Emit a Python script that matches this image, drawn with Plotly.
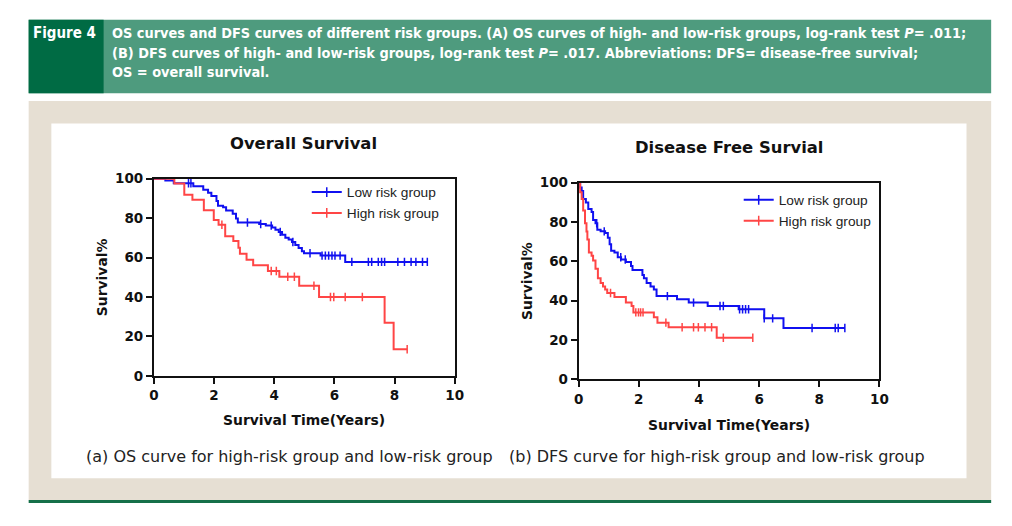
import numpy as np
import plotly.graph_objects as go

W, H = 1012, 526

# ---------------- data ----------------
os_low_t = [0, 0.38, 0.66, 1.31, 1.64, 1.80, 1.91, 2.08, 2.13, 2.30, 2.40, 2.62, 2.73, 2.79,
            3.50, 3.72, 3.93, 4.04, 4.15, 4.26, 4.37, 4.48, 4.59, 4.70, 4.81, 4.92, 4.99, 5.54, 6.36]
os_low_s = [100, 99.0, 97.7, 96.1, 94.4, 92.8, 91.2, 88.7, 86.3, 85.5, 83.8, 82.2, 79.8, 77.8,
            77.0, 76.2, 75.2, 74.1, 73.0, 71.6, 70.0, 69.2, 67.9, 66.4, 64.8, 63.2, 62.2, 61.0, 57.8]
os_low_end = 9.09
os_low_cens = [1.15, 1.23, 3.11, 3.55, 3.90, 4.20, 4.62, 5.19, 5.59, 5.70, 5.81, 5.92, 6.02, 6.19,
               6.58, 7.13, 7.24, 7.46, 7.57, 7.67, 8.11, 8.33, 8.55, 8.71, 8.93, 9.09]

os_high_t = [0, 0.68, 1.01, 1.28, 1.66, 1.99, 2.15, 2.37, 2.64, 2.81, 2.86, 3.08, 3.30, 3.79,
             4.17, 4.83, 5.49, 7.67, 7.97]
os_high_s = [100, 97.5, 91.8, 89.3, 84.0, 79.0, 76.6, 70.8, 68.4, 65.0, 62.0, 58.9, 56.1, 53.2,
             50.3, 45.7, 40.0, 27.0, 13.5]
os_high_end = 8.42
os_high_cens = [2.26, 3.90, 4.07, 4.45, 4.67, 5.32, 5.87, 5.98, 6.36, 6.93, 8.42]

dfs_low_t = [0, 0.05, 0.10, 0.15, 0.24, 0.32, 0.43, 0.48, 0.56, 0.62, 0.73, 0.88, 0.97, 1.03,
             1.08, 1.19, 1.30, 1.41, 1.57, 1.74, 1.79, 2.12, 2.17, 2.26, 2.39, 2.50, 2.59, 3.27,
             3.66, 4.29, 5.32, 6.17, 6.81]
dfs_low_s = [100, 97.5, 95.7, 91.6, 89.9, 86.6, 85.0, 80.9, 79.3, 76.0, 75.2, 74.4, 71.9, 68.6,
             65.3, 64.5, 62.0, 60.9, 59.6, 57.6, 55.5, 53.0, 51.3, 48.9, 47.2, 45.6, 42.3, 40.7,
             39.0, 37.3, 35.6, 31.0, 26.1]
dfs_low_end = 8.85
dfs_low_cens = [0.60, 0.85, 1.40, 1.55, 2.95, 3.82, 4.70, 4.81, 5.35, 5.45, 5.55, 5.65, 6.17,
                6.45, 7.76, 8.53, 8.63, 8.85]

dfs_high_t = [0, 0.05, 0.10, 0.15, 0.21, 0.26, 0.29, 0.34, 0.43, 0.48, 0.56, 0.64, 0.73, 0.81,
              0.88, 0.95, 1.19, 1.57, 1.76, 1.82, 2.50, 2.62, 2.99, 4.59]
dfs_high_s = [100, 95.0, 91.6, 85.8, 79.3, 75.1, 71.0, 64.5, 62.8, 60.4, 56.2, 51.3, 48.9, 47.2,
              45.6, 43.9, 41.8, 39.0, 37.3, 34.0, 31.5, 28.8, 26.5, 21.1]
dfs_high_end = 5.79
dfs_high_cens = [1.06, 1.90, 1.99, 2.06, 2.14, 2.90, 3.44, 3.82, 3.98, 4.20, 4.42, 4.81, 5.79]

x_ticks = [0, 2, 4, 6, 8, 10]
y_ticks = [0, 20, 40, 60, 80, 100]
group_names = ["Low risk group", "High risk group"]
plot_titles = ["Overall Survival", "Disease Free Survial"]
captions = ["(a) OS curve for high-risk group and low-risk group",
            "(b) DFS curve for high-risk group and low-risk group"]

BLUE = "#1010f0"
RED = "#ff4545"


def px_x(x):
    return x / W


def px_y(y):
    return 1 - y / H


def surv_at(times, vals, t):
    times = np.asarray(times)
    vals = np.asarray(vals)
    idx = np.searchsorted(times, np.asarray(t), side="right") - 1
    return vals[idx]


fig = go.Figure()

curves = [
    ("x", "y", os_low_t, os_low_s, os_low_end, os_low_cens, BLUE, group_names[0], "legend"),
    ("x", "y", os_high_t, os_high_s, os_high_end, os_high_cens, RED, group_names[1], "legend"),
    ("x2", "y2", dfs_low_t, dfs_low_s, dfs_low_end, dfs_low_cens, BLUE, group_names[0], "legend2"),
    ("x2", "y2", dfs_high_t, dfs_high_s, dfs_high_end, dfs_high_cens, RED, group_names[1], "legend2"),
]

for xa, ya, t, s, end, cens, col, name, leg in curves:
    xs = list(t) + [end]
    ys = list(s) + [s[-1]]
    fig.add_trace(go.Scatter(x=xs, y=ys, mode="lines", line=dict(color=col, width=2, shape="hv"),
                             xaxis=xa, yaxis=ya, showlegend=False, hoverinfo="skip"))
    fig.add_trace(go.Scatter(x=cens, y=surv_at(t, s, cens), mode="markers",
                             marker=dict(symbol="line-ns-open", size=6, color=col,
                                         line=dict(color=col, width=1.5)),
                             xaxis=xa, yaxis=ya, showlegend=False, hoverinfo="skip"))
    fig.add_trace(go.Scatter(x=[None], y=[None], mode="lines+markers", name=name,
                             line=dict(color=col, width=2),
                             marker=dict(symbol="line-ns-open", size=7, color=col,
                                         line=dict(color=col, width=1.5)),
                             xaxis=xa, yaxis=ya, legend=leg))

FONT = "Liberation Sans, Arial, Helvetica, sans-serif"
WIDE = "DejaVu Sans, Verdana, sans-serif"
NARROW = "DejaVu Sans Condensed, Liberation Sans Narrow, Arial Narrow, sans-serif"

axis_common = dict(range=[0, 10], tickvals=x_ticks, ticks="outside", ticklen=6, tickwidth=2,
                   tickcolor="#111", showline=True, linewidth=2, linecolor="#111", mirror=True,
                   showgrid=False, zeroline=False, fixedrange=True,
                   tickfont=dict(family=WIDE, size=13.5, color="#111", weight="bold"))
yaxis_common = dict(axis_common)
yaxis_common.update(range=[0, 100], tickvals=y_ticks)

leg_font = dict(family=FONT, size=13.7, color="#222")
fig.update_layout(
    width=W, height=H, margin=dict(l=0, r=0, t=0, b=0),
    paper_bgcolor="white", plot_bgcolor="rgba(0,0,0,0)",
    xaxis=dict(axis_common, domain=[px_x(151), px_x(456)], anchor="y"),
    yaxis=dict(yaxis_common, domain=[px_y(379.5), px_y(176)], anchor="x"),
    xaxis2=dict(axis_common, domain=[px_x(581.7), px_x(886.7)], anchor="y2"),
    yaxis2=dict(yaxis_common, domain=[px_y(383), px_y(180)], anchor="x2"),
    legend=dict(x=px_x(306), y=px_y(174), xanchor="left", yanchor="top", font=leg_font,
                bgcolor="rgba(0,0,0,0)", tracegroupgap=0, itemwidth=30),
    legend2=dict(x=px_x(744), y=px_y(182), xanchor="left", yanchor="top", font=leg_font,
                 bgcolor="rgba(0,0,0,0)", tracegroupgap=0, itemwidth=30),
)

shapes = [
    dict(type="rect", x0=px_x(24), x1=px_x(1000), y0=px_y(508), y1=px_y(96),
         fillcolor="#e6dfd3", line=dict(width=0), layer="below"),
    dict(type="rect", x0=px_x(47), x1=px_x(975), y0=px_y(485), y1=px_y(119),
         fillcolor="white", line=dict(width=0), layer="below"),
    dict(type="rect", x0=px_x(24), x1=px_x(1000), y0=px_y(88), y1=px_y(12),
         fillcolor="#4e9b7e", line=dict(width=0), layer="below"),
    dict(type="rect", x0=px_x(24), x1=px_x(100), y0=px_y(88), y1=px_y(12),
         fillcolor="#006b44", line=dict(width=0), layer="below"),
    dict(type="rect", x0=px_x(24), x1=px_x(1000), y0=px_y(510.5), y1=px_y(507.5),
         fillcolor="#157049", line=dict(width=0), layer="below"),
]
for sh in shapes:
    sh.update(xref="paper", yref="paper")
fig.update_layout(shapes=shapes)

ann = []
hdr_font = dict(family=NARROW, size=14.4, color="white", weight="bold")
ann.append(dict(text="Figure 4", x=px_x(60), y=px_y(26), xanchor="center", yanchor="middle",
                font=dict(hdr_font, size=15)))
hdr_lines = [
    "OS curves and DFS curves of different risk groups. (A) OS curves of high- and low-risk groups, log-rank test <i>P</i>= .011;",
    "(B) DFS curves of high- and low-risk groups, log-rank test <i>P</i>= .017. Abbreviations: DFS= disease-free survival;",
    "OS = overall survival.",
]
for i, line in enumerate(hdr_lines):
    ann.append(dict(text=line, x=px_x(106), y=px_y(26 + 20 * i), xanchor="left", yanchor="middle",
                    font=hdr_font))

title_font = dict(family=WIDE, size=16.4, color="#111", weight="bold")
ann.append(dict(text=plot_titles[0], x=px_x(303), y=px_y(140), xanchor="center", yanchor="middle",
                font=title_font))
ann.append(dict(text=plot_titles[1], x=px_x(734), y=px_y(144), xanchor="center", yanchor="middle",
                font=title_font))

ax_font = dict(family=WIDE, size=13.9, color="#111", weight="bold")
ann.append(dict(text="Survival Time(Years)", x=px_x(303), y=px_y(425), xanchor="center",
                yanchor="middle", font=ax_font))
ann.append(dict(text="Survival Time(Years)", x=px_x(734), y=px_y(430), xanchor="center",
                yanchor="middle", font=ax_font))
ann.append(dict(text="Survival%", x=px_x(98), y=px_y(278), xanchor="center", yanchor="middle",
                textangle=-90, font=ax_font))
ann.append(dict(text="Survival%", x=px_x(530), y=px_y(282), xanchor="center", yanchor="middle",
                textangle=-90, font=ax_font))

cap_font = dict(family=WIDE, size=16, color="#222")
ann.append(dict(text=captions[0], x=px_x(288), y=px_y(463), xanchor="center", yanchor="middle",
                font=cap_font))
ann.append(dict(text=captions[1], x=px_x(722), y=px_y(463), xanchor="center", yanchor="middle",
                font=cap_font))

for a in ann:
    a.update(xref="paper", yref="paper", showarrow=False)
fig.update_layout(annotations=ann)

fig.write_html("out.html", config={"displayModeBar": False},
               post_script="document.body.style.margin='0';document.body.style.overflow='hidden';")
